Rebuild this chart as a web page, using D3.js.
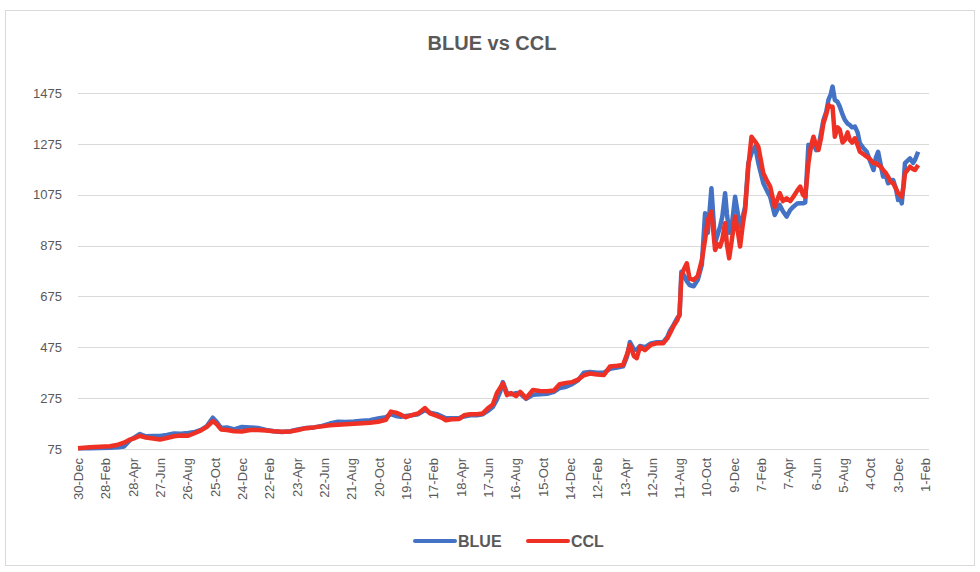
<!DOCTYPE html>
<html>
<head>
<meta charset="utf-8">
<script src="https://cdn.jsdelivr.net/npm/d3@7"></script>
<style>
  body { margin: 0; background: #fff; }
  text { font-family: "Liberation Sans", "Open Sans", sans-serif; fill: #595959; }
  .grid line { stroke: #d9d9d9; }
</style>
</head>
<body>
<svg width="980" height="572"></svg>
<script>
var dates = [
  "2019-12-30","2020-01-25","2020-02-16","2020-03-09","2020-03-27","2020-04-09","2020-04-22","2020-05-03",
  "2020-05-14","2020-05-27","2020-06-12","2020-06-27","2020-07-12","2020-07-28","2020-08-12","2020-08-28",
  "2020-09-12","2020-09-25","2020-10-08","2020-10-21","2020-10-30","2020-11-08","2020-11-21","2020-12-07",
  "2020-12-24","2021-01-11","2021-01-28","2021-02-15","2021-03-04","2021-03-22","2021-04-09","2021-04-26",
  "2021-05-14","2021-05-31","2021-06-18","2021-07-05","2021-07-23","2021-08-09","2021-08-27","2021-09-14",
  "2021-10-01","2021-10-19","2021-11-05","2021-11-16","2021-11-27","2021-12-08","2021-12-19","2022-01-01",
  "2022-01-15","2022-01-30","2022-02-10","2022-02-25","2022-03-10","2022-03-17","2022-03-30","2022-04-15",
  "2022-04-26","2022-05-09","2022-05-24","2022-06-06","2022-06-17","2022-06-28","2022-07-07","2022-07-14",
  "2022-07-20","2022-07-29","2022-08-07","2022-08-18","2022-08-27","2022-09-09","2022-09-24","2022-10-09",
  "2022-10-25","2022-11-09","2022-11-22","2022-12-06","2022-12-19","2023-01-01","2023-01-14","2023-01-27",
  "2023-02-12","2023-02-27","2023-03-12","2023-03-28","2023-04-10","2023-04-19","2023-04-25","2023-05-04",
  "2023-05-10","2023-05-17","2023-05-28","2023-06-10","2023-06-23","2023-07-07","2023-07-16","2023-07-22",
  "2023-07-29","2023-08-07","2023-08-12","2023-08-16","2023-08-21","2023-08-28","2023-09-03","2023-09-12",
  "2023-09-21","2023-09-30","2023-10-07","2023-10-13","2023-10-21","2023-10-29","2023-11-04","2023-11-09",
  "2023-11-14","2023-11-20","2023-11-24","2023-11-29","2023-12-05","2023-12-12","2023-12-18","2023-12-23",
  "2023-12-29","2024-01-03","2024-01-10","2024-01-17","2024-01-25","2024-02-01","2024-02-12","2024-02-20",
  "2024-02-27","2024-03-08","2024-03-19","2024-03-26","2024-04-03","2024-04-11","2024-04-18","2024-04-26",
  "2024-05-03","2024-05-09","2024-05-14","2024-05-21","2024-05-27","2024-06-01","2024-06-07","2024-06-12",
  "2024-06-18","2024-06-23","2024-06-29","2024-07-04","2024-07-09","2024-07-13","2024-07-18","2024-07-24",
  "2024-07-29","2024-08-04","2024-08-09","2024-08-15","2024-08-20","2024-08-25","2024-08-31","2024-09-06",
  "2024-09-11","2024-09-18","2024-09-26","2024-10-03","2024-10-11","2024-10-16","2024-10-21","2024-10-27",
  "2024-11-01","2024-11-07","2024-11-12","2024-11-18","2024-11-23","2024-11-29","2024-12-04","2024-12-08",
  "2024-12-12","2024-12-16","2024-12-19","2024-12-30","2025-01-06","2025-01-10","2025-01-17"
];

var blue = [
  78,78,79,80,82,85,110,122,
  134,125,126,126,130,136,135,138,
  142,150,165,198,180,158,160,152,
  162,160,158,150,145,142,145,152,
  158,160,166,175,182,181,183,186,
  188,195,200,212,205,202,205,208,
  212,228,218,212,202,196,196,196,
  203,208,208,212,225,240,270,300,
  338,295,290,295,292,272,288,290,
  292,300,315,320,330,345,375,378,
  375,375,390,395,400,440,496,465,
  465,480,475,490,495,495,515,540,
  560,590,600,772,760,735,720,715,
  740,800,1002,925,1100,884,920,949,
  990,1081,1000,925,960,1067,1000,949,
  990,1028,1199,1238,1264,1199,1120,1090,
  1067,995,1035,1010,989,1015,1028,1040,
  1041,1041,1045,1271,1260,1277,1250,1264,
  1320,1369,1400,1448,1470,1500,1448,1440,
  1421,1390,1369,1355,1349,1340,1343,1320,
  1277,1260,1244,1210,1172,1220,1244,1190,
  1146,1150,1120,1130,1133,1100,1054,1070,
  1041,1120,1199,1218,1200,1212,1244
];

var ccl = [
  78,82,84,86,92,100,112,118,
  127,120,116,112,118,125,128,127,
  138,148,162,185,172,152,150,145,
  144,150,150,148,145,143,144,150,
  157,160,164,168,170,172,174,176,
  178,182,190,222,218,210,200,208,
  215,236,215,205,196,188,192,193,
  208,212,212,215,235,250,295,315,
  333,287,295,283,300,275,307,303,
  302,305,330,335,338,348,365,372,
  368,366,399,402,405,450,484,440,
  432,477,464,485,491,491,510,530,
  556,582,605,753,780,805,745,740,
  755,818,897,976,1008,858,880,871,
  900,963,880,825,900,989,930,871,
  960,1015,1185,1303,1284,1264,1159,1130,
  1107,1028,1081,1050,1061,1050,1067,1090,
  1107,1075,1067,1199,1270,1303,1270,1251,
  1300,1356,1390,1428,1421,1421,1303,1340,
  1330,1280,1290,1320,1290,1280,1297,1270,
  1244,1235,1225,1215,1199,1200,1192,1185,
  1172,1160,1146,1125,1120,1100,1081,1075,
  1067,1110,1159,1185,1175,1172,1192
];

var yTicks = [75, 275, 475, 675, 875, 1075, 1275, 1475];

var xTicks = [
  "2019-12-30","2020-02-28","2020-04-28","2020-06-27","2020-08-26","2020-10-25","2020-12-24",
  "2021-02-22","2021-04-23","2021-06-22","2021-08-21","2021-10-20","2021-12-19","2022-02-17",
  "2022-04-18","2022-06-17","2022-08-16","2022-10-15","2022-12-14","2023-02-12","2023-04-13",
  "2023-06-12","2023-08-11","2023-10-10","2023-12-09","2024-02-07","2024-04-07","2024-06-06",
  "2024-08-05","2024-10-04","2024-12-03","2025-02-01"
];

var parseDate = d3.timeParse("%Y-%m-%d"),
    fmt = d3.timeFormat("%-d-%b");

var svg = d3.select("svg");

// outer chart border
svg.append("rect")
    .attr("x", 5.5).attr("y", 10.5)
    .attr("width", 969).attr("height", 555)
    .attr("fill", "none")
    .attr("stroke", "#d9d9d9");

svg.append("text")
    .attr("x", 492).attr("y", 50)
    .attr("text-anchor", "middle")
    .style("font-size", "20px")
    .style("font-weight", "bold")
    .text("BLUE vs CCL");

var tickDates = xTicks.map(parseDate);

var x = d3.scaleTime()
    .domain([tickDates[0], tickDates[tickDates.length - 1]])
    .range([78, 925]);

var y = d3.scaleLinear()
    .domain([75, 1475])
    .range([449, 93]);

// gridlines
svg.append("g")
    .attr("class", "grid")
    .selectAll("line")
    .data(yTicks)
  .enter().append("line")
    .attr("x1", 78).attr("x2", 929)
    .attr("y1", function(d) { return Math.round(y(d)) + 0.5; })
    .attr("y2", function(d) { return Math.round(y(d)) + 0.5; });

var yAxis = svg.append("g")
    .attr("transform", "translate(78,0)")
    .call(d3.axisLeft(y).tickValues(yTicks).tickFormat(d3.format("d")).tickSize(0).tickPadding(16));
yAxis.select(".domain").remove();
yAxis.selectAll("text").style("font-size", "13px").style("fill", "#595959");

var xAxis = svg.append("g")
    .attr("transform", "translate(0,449)")
    .call(d3.axisBottom(x).tickValues(tickDates).tickFormat(fmt).tickSize(0));
xAxis.select(".domain").remove();
xAxis.selectAll("text")
    .style("font-size", "13px")
    .style("fill", "#595959")
    .attr("text-anchor", "end")
    .attr("transform", "rotate(-90)")
    .attr("x", -9)
    .attr("y", 0)
    .attr("dy", "0.35em");

var rows = dates.map(function(d, i) {
  return {date: parseDate(d), blue: blue[i], ccl: ccl[i]};
});

var line_blue = d3.line()
    .x(function(d) { return x(d.date); })
    .y(function(d) { return y(d.blue); });

var line_ccl = d3.line()
    .x(function(d) { return x(d.date); })
    .y(function(d) { return y(d.ccl); });

svg.append("path")
    .datum(rows)
    .attr("fill", "none")
    .attr("stroke", "#4472c4")
    .attr("stroke-width", 4.5)
    .attr("stroke-linejoin", "round")
    .attr("d", line_blue);

svg.append("path")
    .datum(rows)
    .attr("fill", "none")
    .attr("stroke", "#ee3124")
    .attr("stroke-width", 4.5)
    .attr("stroke-linejoin", "round")
    .attr("d", line_ccl);

// legend
var legend = [{name: "BLUE", color: "#4472c4", x: 415}, {name: "CCL", color: "#ee3124", x: 528}];
var lg = svg.selectAll(".legend")
    .data(legend)
  .enter().append("g")
    .attr("class", "legend")
    .attr("transform", function(d) { return "translate(" + d.x + ",541)"; });
lg.append("line")
    .attr("x1", 0).attr("x2", 40)
    .attr("stroke", function(d) { return d.color; })
    .attr("stroke-width", 4)
    .attr("stroke-linecap", "round");
lg.append("text")
    .attr("x", 43).attr("dy", "0.36em")
    .style("font-size", "16px")
    .style("font-weight", "bold")
    .text(function(d) { return d.name; });
</script>
</body>
</html>
